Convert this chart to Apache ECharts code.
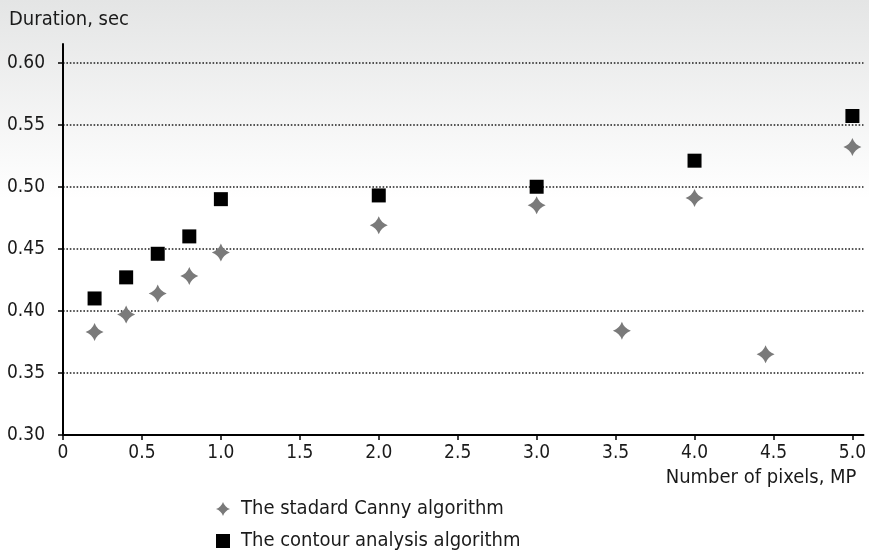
<!DOCTYPE html>
<html>
<head>
<meta charset="utf-8">
<script src="https://cdn.jsdelivr.net/npm/echarts@6/dist/echarts.min.js"></script>
<style>
html,body{margin:0;padding:0;}
#chart{width:869px;height:553px;}
</style>
</head>
<body>
<div id="chart"></div>
<script>
// Data
const cannyX = [0.2, 0.4, 0.6, 0.8, 1.0, 2.0, 3.0, 3.54, 4.0, 4.45, 5.0];
const cannyY = [0.383, 0.397, 0.414, 0.428, 0.447, 0.469, 0.485, 0.384, 0.491, 0.365, 0.532];
const contourX = [0.2, 0.4, 0.6, 0.8, 1.0, 2.0, 3.0, 4.0, 5.0];
const contourY = [0.410, 0.427, 0.446, 0.460, 0.490, 0.493, 0.500, 0.521, 0.557];
const xTicks = [0, 0.5, 1.0, 1.5, 2.0, 2.5, 3.0, 3.5, 4.0, 4.5, 5.0];
const yTicks = [0.30, 0.35, 0.40, 0.45, 0.50, 0.55, 0.60];
const seriesNames = ['The stadard Canny algorithm', 'The contour analysis algorithm'];
const xName = 'Number of pixels, MP';
const yName = 'Duration, sec';

const FONT = '"DejaVu Sans Condensed", "Liberation Sans Narrow", "Roboto", sans-serif';
const STAR = 'path://M0,-10 Q2.6,-2.6 10,0 Q2.6,2.6 0,10 Q-2.6,2.6 -10,0 Q-2.6,-2.6 0,-10 Z';
const SQUARE = 'path://M0,0 L10,0 L10,10 L0,10 Z';
const TXT = '#1a1a1a';

const zip = (xs, ys) => xs.map((x, i) => [x, ys[i]]);

const chart = echarts.init(document.getElementById('chart'), null, {renderer: 'canvas'});
const splitColors = yTicks.map(() => '#1e1e1e').concat(['rgba(0,0,0,0)']);

const legendBase = {
  orient: 'vertical',
  left: 216,
  padding: 0,
  itemWidth: 26,
  itemHeight: 14,
  itemGap: 0,
  textStyle: {fontFamily: FONT, fontSize: 20, color: TXT, lineHeight: 22}
};

chart.setOption({
  backgroundColor: {
    type: 'linear', x: 0, y: 0, x2: 0, y2: 1,
    colorStops: [
      {offset: 0, color: '#e4e5e5'},
      {offset: 0.36, color: '#ffffff'},
      {offset: 1, color: '#ffffff'}
    ]
  },
  animation: false,
  textStyle: {fontFamily: FONT},
  title: [
    {text: yName, left: 9, top: 10, padding: 0, textStyle: {fontFamily: FONT, fontSize: 20, fontWeight: 'normal', color: TXT}}
  ],
  legend: [
    Object.assign({}, legendBase, {top: 498, data: [{name: seriesNames[0], icon: STAR}]}),
    Object.assign({}, legendBase, {top: 530, data: [{name: seriesNames[1], icon: SQUARE}]})
  ],
  grid: {left: 63, right: 5, top: 44, bottom: 118, containLabel: false},
  xAxis: {
    type: 'value',
    min: 0,
    max: 5.07,
    interval: 0.5,
    name: xName,
    nameLocation: 'end',
    nameGap: -7,
    nameTextStyle: {fontFamily: FONT, fontSize: 20, color: TXT, align: 'right', verticalAlign: 'top', padding: [33, 0, 0, 0]},
    axisLine: {show: true, lineStyle: {color: '#000', width: 2}},
    axisTick: {show: true, length: 5, lineStyle: {color: '#000', width: 1.5}, customValues: xTicks},
    axisLabel: {
      customValues: xTicks,
      margin: 9,
      fontFamily: FONT, fontSize: 19, color: TXT,
      formatter: v => (v === 0 ? '0' : v.toFixed(1))
    },
    splitLine: {show: false}
  },
  yAxis: {
    type: 'value',
    min: 0.30,
    max: 0.615,
    interval: 0.05,
    axisLine: {show: true, onZero: false, lineStyle: {color: '#000', width: 2}},
    axisTick: {show: true, length: 5, lineStyle: {color: '#000', width: 1.5}, customValues: yTicks},
    axisLabel: {
      customValues: yTicks,
      margin: 18,
      fontFamily: FONT, fontSize: 19, color: TXT,
      formatter: v => v.toFixed(2)
    },
    splitLine: {show: true, lineStyle: {color: splitColors, width: 1.6, type: [1.6, 1.8]}}
  },
  series: [
    {
      name: seriesNames[0],
      type: 'scatter',
      symbol: STAR,
      symbolSize: 18,
      itemStyle: {color: '#7a7a7a', opacity: 1},
      data: zip(cannyX, cannyY),
      z: 3
    },
    {
      name: seriesNames[1],
      type: 'scatter',
      symbol: 'rect',
      symbolSize: 14,
      itemStyle: {color: '#000000', opacity: 1},
      data: zip(contourX, contourY),
      z: 4
    }
  ]
});
</script>
</body>
</html>
